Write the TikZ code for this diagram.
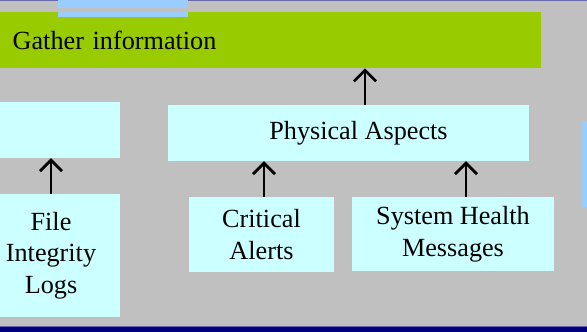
\documentclass[tikz,border=0pt]{standalone}
\usepackage{fontspec}
\setmainfont{Liberation Serif}
\usetikzlibrary{arrows.meta}
\definecolor{slidegray}{HTML}{C0C0C0}
\definecolor{leafgreen}{HTML}{99CC00}
\definecolor{palecyan}{HTML}{CCFFFF}
\definecolor{skyblue}{HTML}{99CCFF}
\definecolor{navy}{HTML}{000080}
\definecolor{rulepurple}{HTML}{6666AA}
\tikzset{
  box/.style={fill=palecyan, draw=none, inner sep=0pt, align=center,
    font=\fontsize{26.2}{31.5}\selectfont},
  upArrow/.style={-{Straight Barb[length=11pt,width=22pt]}, line width=2.7pt, black},
}
\begin{document}
\begin{tikzpicture}[x=1pt, y=-1pt]
  \useasboundingbox (0,0) rectangle (587,332);
  \clip (0,0) rectangle (587,332);
  % slide background and edge rules
  \fill[slidegray] (0,0) rectangle (587,332);
  \fill[rulepurple] (0,0) rectangle (587,1.3);
  \fill[rulepurple] (0,325.8) rectangle (587,327);
  \fill[navy] (0,327) rectangle (587,332);
  \fill[skyblue] (58,0) rectangle (188,8);

  % title bar
  \node[fill=leafgreen, inner xsep=12.5pt, inner ysep=0pt, anchor=north west,
        text width=516pt, align=left, minimum height=56pt,
        font=\fontsize{26.2}{31.5}\selectfont] (gather) at (0,12) {Gather information};
  \fill[skyblue] (58,12) rectangle (188,17);

  % boxes
  \node[box, minimum width=138pt, minimum height=56pt] (lefttop) at (51,130) {};
  \node[box, minimum width=138pt, minimum height=123pt] (files) at (51,255.5)
    {\raisebox{-3.5pt}{\begin{tabular}{@{}c@{}}File\\Integrity\\Logs\end{tabular}}};
  \node[box, minimum width=361pt, minimum height=56pt] (phys) at (348.5,133)
    {\hspace*{20pt}Physical Aspects};
  \node[box, minimum width=145pt, minimum height=75pt] (crit) at (261.5,234.5) {Critical\\Alerts};
  \node[box, minimum width=202pt, minimum height=74pt] (sys) at (453,234) {System Health\\Messages};
  \node[fill=skyblue, inner sep=0pt, minimum width=12pt, minimum height=86pt] (side) at (587,164) {};

  % connector columns
  \coordinate (c1) at (51,0);
  \coordinate (c2) at (365,0);
  \coordinate (c3) at (264,0);
  \coordinate (c4) at (466,0);

  % connectors
  \draw[upArrow] (files.north -| c1) -- (lefttop.south -| c1);
  \draw[upArrow] (phys.north -| c2) -- (gather.south -| c2);
  \draw[upArrow] (crit.north -| c3) -- (phys.south -| c3);
  \draw[upArrow] (sys.north -| c4) -- (phys.south -| c4);
\end{tikzpicture}
\end{document}
